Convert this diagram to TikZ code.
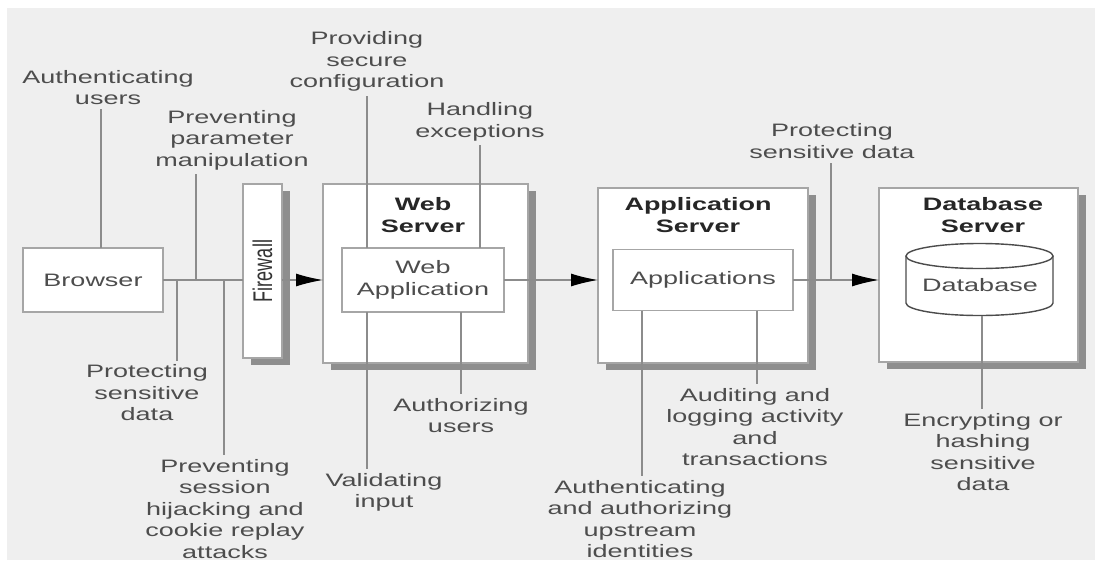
\documentclass[tikz,border=0pt]{standalone}
\usepackage{fontspec}
\setmainfont{Liberation Sans}[FakeStretch=1.5]
\newfontfamily\fwfont{Liberation Sans}[FakeStretch=0.667]
\usetikzlibrary{%
	arrows.meta,%
	shadows
}

\definecolor{bggrey}{HTML}{EFEFEF}
\definecolor{boxline}{HTML}{A6A6A6}
\definecolor{shadowgrey}{HTML}{8E8E8E}
\definecolor{wiregrey}{HTML}{8C8C8C}
\definecolor{labelgrey}{HTML}{4D4D4D}

\newcommand{\figfont}{\fontsize{18}{21.5}\selectfont}

\tikzset{
	box/.style={draw=boxline, line width=1.4pt, fill=white, inner sep=0pt, outer sep=0pt},
	server/.style={box, drop shadow={fill=shadowgrey, opacity=1, shadow xshift=8pt, shadow yshift=-7pt}},
	title/.style={font=\figfont\bfseries, text=black!85, align=center},
	inbox/.style={font=\figfont, text=labelgrey, align=center},
	note/.style={font=\figfont, text=labelgrey, align=center, inner sep=4pt},
	wire/.style={draw=wiregrey, line width=1.3pt},
	flow/.style={wire, -{Latex[length=27pt,width=13pt,black]}},
	cyl/.style={draw=black!70, line width=1.4pt}
}

\begin{document}
\begin{tikzpicture}[x=1pt, y=-1pt]
	% Background
	\useasboundingbox (0,0) rectangle (1095,562);
	\fill[bggrey] (7,8) rectangle (1095,560);
	
	% Browser and firewall
	\node[box, inbox, minimum width=140pt, minimum height=64pt] (browser) at (93,280) {Browser};
	\node[server, minimum width=39pt, minimum height=174pt] (firewall) at (262.5,271) {};
	\node[rotate=90, font=\fwfont\fontsize{27}{30}\selectfont, text=black!80] (fwtext) at (firewall) {Firewall};
	
	% Servers
	\node[server, minimum width=205pt, minimum height=179pt] (websrv) at (425.5,273.5) {};
	\node[title] (websrvtitle) at (423,215) {Web\\Server};
	\node[box, inbox, minimum width=162pt, minimum height=64pt] (webapp) at (423,280) {Web\\Application};
	
	\node[server, minimum width=210pt, minimum height=175pt] (appsrv) at (703,275.5) {};
	\node[title] (appsrvtitle) at (698,215) {Application\\Server};
	\node[box, inbox, minimum width=180pt, minimum height=61pt] (apps) at (703,280) {Applications};
	
	\node[server, minimum width=199pt, minimum height=174pt] (dbsrv) at (978.5,275) {};
	\node[title] (dbsrvtitle) at (983,215) {Database\\Server};
	
	% Database cylinder
	\path[fill=white] (906,256) -- (906,303) arc[start angle=180, end angle=360, x radius=73.5pt, y radius=12.5pt] -- (1053,256) -- cycle;
	\draw[cyl] (906,256) -- (906,303) arc[start angle=180, end angle=360, x radius=73.5pt, y radius=12.5pt] -- (1053,256);
	\draw[cyl, fill=white] (979.5,256) ellipse [x radius=73.5pt, y radius=12.5pt];
	\node[inbox] (db) at (980,285) {Database};
	\coordinate (dbbase) at (982,315.5);
	
	% Main flow
	\draw[wire] (browser.east) -- (browser.east -| firewall.west);
	\draw[flow] (firewall.east |- browser.east) -- (websrv.west |- browser.east);
	\draw[flow] (webapp.east) -- (webapp.east -| appsrv.west);
	\draw[flow] (apps.east) -- (apps.east -| dbsrv.west);
	
	% Labels
	\node[note] (lauth) at (108,87.5) {Authenticating\\users};
	\node[note] (lparam) at (232,140) {Preventing\\parameter\\manipulation};
	\node[note] (lprotb) at (147,393) {Protecting\\sensitive\\data};
	\node[note] (lsess) at (225,509) {Preventing\\session\\hijacking and\\cookie replay\\attacks};
	\node[note] (lconf) at (367,61.5) {Providing\\secure\\configuration};
	\node[note] (lexc) at (480,122) {Handling\\exceptions};
	\node[note] (lvalid) at (384,492.5) {Validating\\input};
	\node[note] (lauthz) at (461,415.5) {Authorizing\\users};
	\node[note] (lupstr) at (640,519) {Authenticating\\and authorizing\\upstream\\identities};
	\node[note] (laudit) at (755,427) {Auditing and\\logging activity\\and\\transactions};
	\node[note] (lprotd) at (832,141) {Protecting\\sensitive data};
	\node[note] (lenc) at (983,452) {Encrypting or\\hashing\\sensitive\\data};
	
	% Tap points
	\coordinate (j1) at (177,280);
	\coordinate (j2) at (196,280);
	\coordinate (j3) at (224,280);
	\coordinate (j4) at (831,280);
	\coordinate (tuser) at (101,248);
	\coordinate (tconf) at (367,248);
	\coordinate (texc) at (480,248);
	\coordinate (tvalid) at (367,312);
	\coordinate (tauthz) at (461,312);
	\coordinate (tupstr) at (642,310.5);
	\coordinate (taudit) at (757,310.5);
	
	% Label wires
	\draw[wire] (tuser) -- (tuser |- lauth.south);
	\draw[wire] (j1) -- (j1 |- lprotb.north);
	\draw[wire] (j2) -- (j2 |- lparam.south);
	\draw[wire] (j3) -- (j3 |- lsess.north);
	\draw[wire] (tconf) -- (tconf |- lconf.south);
	\draw[wire] (texc) -- (texc |- lexc.south);
	\draw[wire] (tvalid) -- (tvalid |- lvalid.north);
	\draw[wire] (tauthz) -- (tauthz |- lauthz.north);
	\draw[wire] (tupstr) -- (tupstr |- lupstr.north);
	\draw[wire] (taudit) -- (taudit |- laudit.north);
	\draw[wire] (j4) -- (j4 |- lprotd.south);
	\draw[wire] (dbbase) -- (dbbase |- lenc.north);
\end{tikzpicture}
\end{document}
